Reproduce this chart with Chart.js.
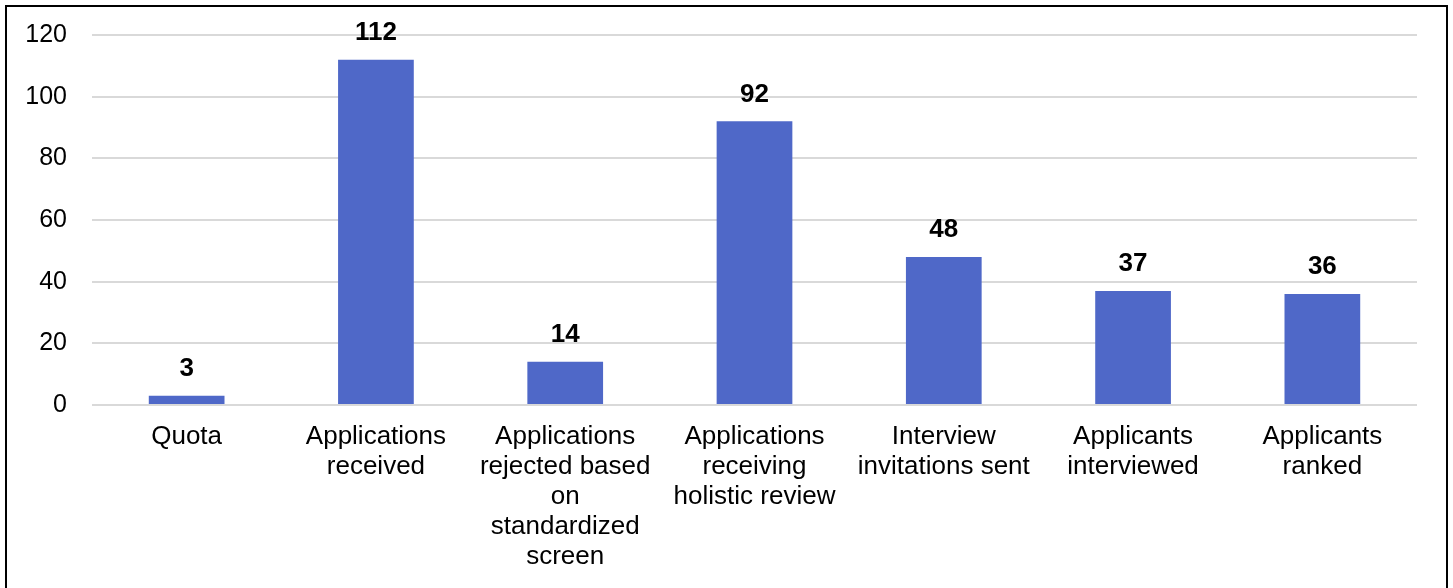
<!DOCTYPE html>
<html><head><meta charset="utf-8">
<script src="https://cdn.jsdelivr.net/npm/chart.js@4"></script>
<style>
html,body{margin:0;padding:0;background:#fff;}
#wrap{position:absolute;left:0;top:0;width:1453px;height:588px;}
#frame{position:absolute;left:5px;top:5px;width:1439px;height:600px;border:2px solid #000;pointer-events:none;}
</style></head><body>
<div id="wrap"><canvas id="c" width="1453" height="588"></canvas></div>
<div id="frame"></div>
<script>
const categories = [
  "Quota",
  ["Applications","received"],
  ["Applications","rejected based","on","standardized","screen"],
  ["Applications","receiving","holistic review"],
  ["Interview","invitations sent"],
  ["Applicants","interviewed"],
  ["Applicants","ranked"]
];
const values = [3, 112, 14, 92, 48, 37, 36];
const yTicks = [0, 20, 40, 60, 80, 100, 120];

const FONT = "'Liberation Sans', Arial, sans-serif";
const labelPlugin = {
  id: 'vlabels',
  afterDatasetsDraw(chart) {
    const ctx = chart.ctx;
    const meta = chart.getDatasetMeta(0);
    ctx.save();
    ctx.font = "bold 26px " + FONT;
    ctx.fillStyle = "#000";
    ctx.textAlign = "center";
    ctx.textBaseline = "middle";
    meta.data.forEach((bar, i) => {
      ctx.fillText(String(values[i]), bar.x, bar.y - 27);
    });
    ctx.restore();
  }
};

new Chart(document.getElementById('c'), {
  type: 'bar',
  data: {
    labels: categories,
    datasets: [{
      data: values,
      backgroundColor: '#4F68C8',
      borderWidth: 0,
      barPercentage: 0.4,
      categoryPercentage: 1.0
    }]
  },
  options: {
    responsive: false,
    animation: false,
    devicePixelRatio: 1,
    layout: { padding: { left: 0, right: 36, top: 35, bottom: 0 } },
    plugins: { legend: { display: false }, tooltip: { enabled: false } },
    scales: {
      x: {
        grid: { display: false, drawTicks: false },
        border: { display: false },
        ticks: {
          color: '#000',
          font: { family: FONT, size: 26, lineHeight: 30/26 },
          padding: 17,
          maxRotation: 0,
          autoSkip: false
        },
        afterFit(s) { s.height = 183; s.paddingLeft = 0; s.paddingRight = 0; }
      },
      y: {
        min: 0, max: 120,
        afterBuildTicks(s) { s.ticks = yTicks.map(v => ({ value: v })); },
        grid: { color: '#D9D9D9', lineWidth: 2, drawTicks: false },
        border: { display: false },
        ticks: {
          color: '#000',
          font: { family: FONT, size: 25 },
          padding: 25
        },
        afterFit(s) { s.width = 92; s.paddingTop = 0; s.paddingBottom = 0; }
      }
    }
  },
  plugins: [labelPlugin]
});
</script>
</body></html>
